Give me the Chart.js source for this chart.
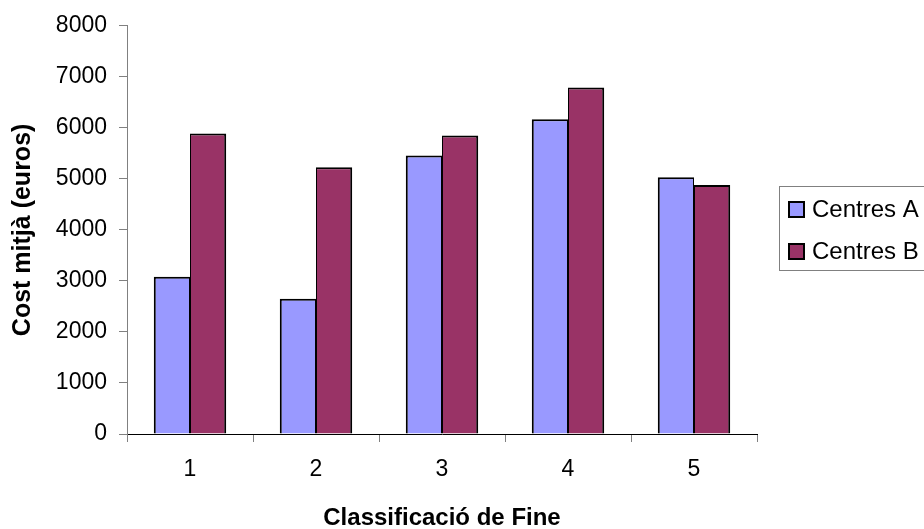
<!DOCTYPE html>
<html>
<head>
<meta charset="utf-8">
<script src="https://cdn.jsdelivr.net/npm/chart.js@4/dist/chart.umd.min.js"></script>
<style>
  html, body { margin: 0; padding: 0; background: #ffffff; }
  #wrap { width: 924px; height: 529px; overflow: hidden; }
</style>
</head>
<body>
<div id="wrap"><canvas id="c" width="924" height="529"></canvas></div>
<script>
// Fine class categories and mean cost per centre type (euros)
const categories = ['1', '2', '3', '4', '5'];
const centresA = [3080, 2650, 5460, 6170, 5030];
const centresB = [5890, 5230, 5850, 6790, 4880];
const seriesNames = ['Centres A', 'Centres B'];
const yTicks = [0, 1000, 2000, 3000, 4000, 5000, 6000, 7000, 8000];

const FONT = '"Liberation Sans", Arial, sans-serif';

// Boxed legend on the right, partly running off the canvas edge
const boxLegend = {
  id: 'boxLegend',
  afterDraw(chart) {
    const ctx = chart.ctx;
    ctx.save();
    ctx.strokeStyle = '#808080';
    ctx.lineWidth = 1;
    ctx.strokeRect(779.5, 186.5, 160, 84);
    ctx.font = '24px ' + FONT;
    ctx.textBaseline = 'middle';
    ctx.textAlign = 'left';
    chart.data.datasets.forEach((ds, i) => {
      const y = 209 + i * 42;
      ctx.fillStyle = ds.backgroundColor;
      ctx.fillRect(789, y - 7, 15, 15);
      ctx.strokeStyle = '#000000';
      ctx.lineWidth = 2;
      ctx.strokeRect(789, y - 7, 15, 15);
      ctx.fillStyle = '#000000';
      ctx.fillText(ds.label, 812, y + 1);
    });
    ctx.restore();
  }
};

new Chart(document.getElementById('c'), {
  type: 'bar',
  data: {
    labels: categories,
    datasets: [
      {
        label: seriesNames[0],
        data: centresA,
        backgroundColor: '#9999FF',
        borderColor: '#000000',
        borderWidth: { left: 2, top: 2, right: 1, bottom: 0 },
        borderSkipped: false,
        categoryPercentage: 0.575,
        barPercentage: 1.0
      },
      {
        label: seriesNames[1],
        data: centresB,
        backgroundColor: '#993366',
        borderColor: '#000000',
        borderWidth: { left: 1, top: 2, right: 2, bottom: 0 },
        borderSkipped: false,
        categoryPercentage: 0.575,
        barPercentage: 1.0
      }
    ]
  },
  options: {
    responsive: false,
    animation: false,
    devicePixelRatio: 1,
    layout: { padding: { left: 0, top: 24, right: 167, bottom: 0 } },
    plugins: {
      legend: { display: false },
      tooltip: { enabled: false }
    },
    scales: {
      x: {
        grid: {
          offset: true,
          drawOnChartArea: false,
          drawTicks: true,
          tickLength: 8,
          color: '#808080',
          lineWidth: 1
        },
        border: { display: true, color: '#000000', width: 1 },
        ticks: {
          color: '#000000',
          font: { family: FONT, size: 23 },
          padding: 14
        },
        title: {
          display: true,
          text: 'Classificació de Fine',
          color: '#000000',
          font: { family: FONT, size: 24, weight: 'bold' },
          padding: { top: 0, bottom: -4 }
        },
        afterFit(scale) { scale.height = 95; }
      },
      y: {
        min: 0,
        max: 8000,
        afterBuildTicks(scale) { scale.ticks = yTicks.map(v => ({ value: v })); },
        grid: {
          drawOnChartArea: false,
          drawTicks: true,
          tickLength: 8,
          color: '#808080',
          lineWidth: 1
        },
        border: { display: true, color: '#808080', width: 1 },
        ticks: {
          color: '#000000',
          font: { family: FONT, size: 23 },
          padding: 12,
          callback: (v) => String(v)
        },
        title: {
          display: true,
          text: 'Cost mitjà (euros)',
          color: '#000000',
          font: { family: FONT, size: 25, weight: 'bold' },
          padding: { top: 8, bottom: 0 }
        },
        afterFit(scale) { scale.width = 127; }
      }
    }
  },
  plugins: [boxLegend]
});
</script>
</body>
</html>
